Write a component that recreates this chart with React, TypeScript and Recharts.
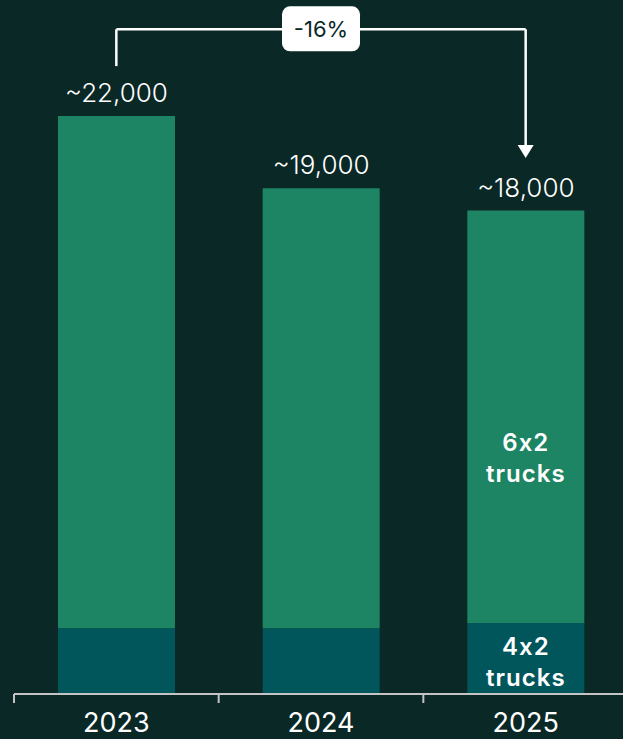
import React from 'react';
import { BarChart, Bar, XAxis, YAxis, LabelList, ReferenceLine, ReferenceDot } from 'recharts';

const years = ['2023', '2024', '2025'];
const trucks4x2 = [2500, 2500, 2700];
const trucks6x2 = [19500, 16750, 15700];
const totalLabels = ['~22,000', '~19,000', '~18,000'];
const changeLabel = '-16%';
const label6x2 = ['6x2', 'trucks'];
const label4x2 = ['4x2', 'trucks'];
const labelledIndex = 2;

// annotation levels (in data units)
const bracketTop = 25300;
const bracketStart = 23900;
const arrowTip = 20400;

const data = years.map((y, i) => ({ year: y, t4: trucks4x2[i], t6: trucks6x2[i] }));

const BG = '#0a2826';
const GREEN = '#1d8563';
const TEAL = '#00565a';
const AXIS = '#c4c4c4';
const FONT = 'Inter, "Noto Sans", sans-serif';

const YearTick = (props: any) => {
  const { x, y, payload } = props;
  const half = payload && payload.offset ? payload.offset : 102;
  return (
    <g>
      <line x1={x - half} x2={x - half} y1={y} y2={y + 9} stroke={AXIS} strokeWidth={2} />
      <text x={x} y={y + 38} textAnchor="middle" fill="#ffffff" fontSize={27} fontWeight={400} fontFamily={FONT}>
        {payload.value}
      </text>
    </g>
  );
};

const TotalLabel = (props: any) => {
  const { x, y, width, index } = props;
  const cx = Number(x) + Number(width) / 2;
  return (
    <g>
      <text x={cx} y={Number(y) - 14} textAnchor="middle" fill="#ffffff" fontSize={26} fontWeight={300} fontFamily={FONT}>
        {totalLabels[index]}
      </text>
      {index === labelledIndex ? (
        <text x={cx} y={Number(y) + Number(props.height) - 172} textAnchor="middle" fill="#ffffff" fontSize={24} fontWeight={600} fontFamily={FONT} letterSpacing={1}>
          <tspan x={cx}>{label6x2[0]}</tspan>
          <tspan x={cx} dy={31}>{label6x2[1]}</tspan>
        </text>
      ) : null}
    </g>
  );
};

const BottomLabel = (props: any) => {
  const { x, y, width, index } = props;
  if (index !== labelledIndex) return null;
  const cx = Number(x) + Number(width) / 2;
  return (
    <text x={cx} y={Number(y) + 32} textAnchor="middle" fill="#ffffff" fontSize={24} fontWeight={600} fontFamily={FONT} letterSpacing={1}>
      <tspan x={cx}>{label4x2[0]}</tspan>
      <tspan x={cx} dy={31}>{label4x2[1]}</tspan>
    </text>
  );
};

const ArrowLine = (props: any) => {
  const { x1, y1, x2, y2 } = props;
  return (
    <g>
      <line x1={x1} y1={y1} x2={x2} y2={y2 - 12} stroke="#ffffff" strokeWidth={2.5} />
      <path d={`M${x2 - 8},${y2 - 13} L${x2 + 8},${y2 - 13} L${x2},${y2} Z`} fill="#ffffff" />
    </g>
  );
};

const PlainLine = (props: any) => {
  const { x1, y1, x2, y2 } = props;
  return <line x1={x1} y1={y1} x2={x2} y2={y2} stroke="#ffffff" strokeWidth={2.5} />;
};

const ChangeBox = (props: any) => {
  const { cx, cy } = props;
  return (
    <g>
      <rect x={cx - 39} y={cy - 23} width={78} height={45} rx={8} ry={8} fill="#ffffff" />
      <text x={cx} y={cy + 8} textAnchor="middle" fill={BG} fontSize={22} fontWeight={400} fontFamily={FONT}>
        {changeLabel}
      </text>
    </g>
  );
};

export default function App() {
  return (
    <div style={{ position: 'fixed', left: 0, top: 0, width: 623, height: 739, overflow: 'hidden', background: BG }}>
      <BarChart width={628} height={739} data={data} margin={{ top: 116, right: 0, bottom: 0, left: 14 }}>
        <XAxis
          dataKey="year"
          axisLine={{ stroke: AXIS, strokeWidth: 2 }}
          tickLine={false}
          tickSize={0}
          tickMargin={0}
          height={45}
          tick={<YearTick />}
          interval={0}
        />
        <YAxis hide domain={[0, 22000]} allowDataOverflow={false} />
        <Bar dataKey="t4" stackId="a" fill={TEAL} barSize={117} isAnimationActive={false}>
          <LabelList dataKey="t4" content={<BottomLabel />} />
        </Bar>
        <Bar dataKey="t6" stackId="a" fill={GREEN} barSize={117} isAnimationActive={false}>
          <LabelList dataKey="t6" content={<TotalLabel />} />
        </Bar>
        <ReferenceLine
          ifOverflow="visible"
          segment={[{ x: years[0], y: bracketStart }, { x: years[0], y: bracketTop }]}
          shape={<PlainLine />}
        />
        <ReferenceLine
          ifOverflow="visible"
          segment={[{ x: years[0], y: bracketTop }, { x: years[2], y: bracketTop }]}
          shape={<PlainLine />}
        />
        <ReferenceLine
          ifOverflow="visible"
          segment={[{ x: years[2], y: bracketTop }, { x: years[2], y: arrowTip }]}
          shape={<ArrowLine />}
        />
        <ReferenceDot ifOverflow="visible" x={years[1]} y={bracketTop} r={0} shape={<ChangeBox />} />
      </BarChart>
    </div>
  );
}
